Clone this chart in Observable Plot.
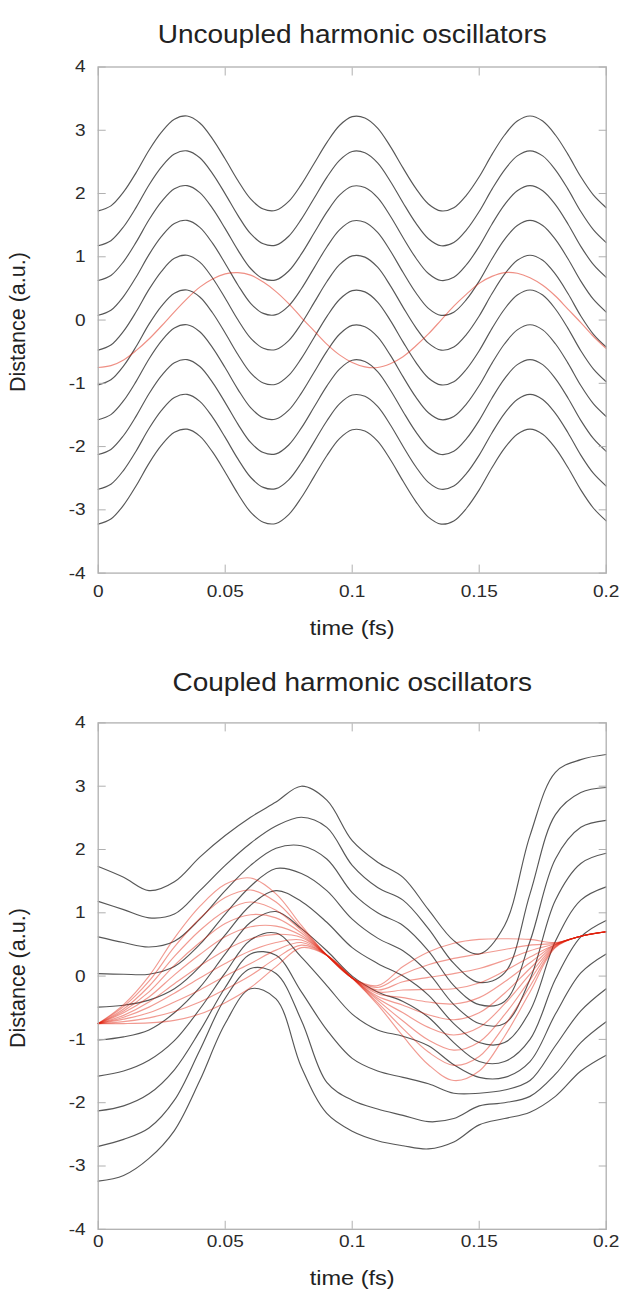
<!DOCTYPE html>
<html><head><meta charset="utf-8">
<script src="https://cdn.jsdelivr.net/npm/d3@7"></script>
<script src="https://cdn.jsdelivr.net/npm/@observablehq/plot@0.6"></script>
<style>
html,body{margin:0;padding:0;background:#fff;}
#c svg{display:block;}
</style></head><body><div id="c"></div>
<script>
// ---------------- data ----------------
const xTicks = [0, 0.05, 0.1, 0.15, 0.2];
const xTickLabels = ["0", "0.05", "0.1", "0.15", "0.2"];
const yTicks = [-4, -3, -2, -1, 0, 1, 2, 3, 4];

// Uncoupled panel: time grid, shared waveform of the black oscillators, their rest positions
const tFine = [0,0.005,0.01,0.015,0.02,0.025,0.03,0.035,0.04,0.045,0.05,0.055,0.06,0.065,0.07,0.075,0.08,0.085,0.09,0.095,0.1,0.105,0.11,0.115,0.12,0.125,0.13,0.135,0.14,0.145,0.15,0.155,0.16,0.165,0.17,0.175,0.18,0.185,0.19,0.195,0.2];
const uncoupledCenters = [2.475, 1.925, 1.375, 0.825, 0.275, -0.275, -0.825, -1.375, -1.925, -2.475];
const uncoupledWave = [-0.75,-0.67,-0.45,-0.14,0.21,0.50,0.70,0.75,0.64,0.39,0.07,-0.27,-0.56,-0.72,-0.74,-0.60,-0.33,0.00,0.33,0.60,0.74,0.72,0.56,0.27,-0.07,-0.39,-0.64,-0.75,-0.70,-0.50,-0.21,0.14,0.45,0.67,0.75,0.67,0.45,0.14,-0.21,-0.50,-0.70];
const uncoupledRed = [-0.75,-0.72,-0.63,-0.48,-0.30,-0.09,0.13,0.34,0.52,0.65,0.73,0.75,0.71,0.60,0.45,0.26,0.04,-0.17,-0.38,-0.55,-0.67,-0.74,-0.75,-0.69,-0.58,-0.41,-0.22,0.00,0.22,0.41,0.58,0.69,0.75,0.74,0.67,0.55,0.38,0.17,-0.04,-0.26,-0.45];

// Coupled panel: time grid
const tCoarse = [0,0.01,0.02,0.03,0.04,0.05,0.06,0.07,0.08,0.09,0.1,0.11,0.12,0.13,0.14,0.15,0.16,0.17,0.18,0.19,0.2];
// black oscillators, top (1) to bottom (10)
const cBlack1  = [1.73,1.56,1.35,1.49,1.88,2.22,2.51,2.75,3.00,2.78,2.14,1.80,1.56,1.05,0.56,0.35,0.80,2.22,3.22,3.42,3.50];
const cBlack2  = [1.18,1.05,0.92,0.98,1.35,1.75,2.10,2.37,2.51,2.35,1.75,1.40,1.20,0.75,0.20,-0.10,0.05,1.30,2.55,2.90,2.98];
const cBlack3  = [0.62,0.53,0.46,0.55,0.90,1.35,1.75,2.02,2.06,1.85,1.32,1.00,0.80,0.40,-0.15,-0.45,-0.40,0.55,1.85,2.35,2.46];
const cBlack4  = [0.04,0.03,0.03,0.15,0.50,0.98,1.42,1.70,1.62,1.35,0.90,0.60,0.40,0.05,-0.45,-0.75,-0.75,-0.05,1.20,1.78,1.94];
const cBlack5  = [-0.49,-0.46,-0.38,-0.20,0.15,0.65,1.12,1.35,1.18,0.85,0.45,0.20,0.00,-0.30,-0.75,-1.05,-1.05,-0.55,0.55,1.20,1.41];
const cBlack6  = [-1.01,-0.96,-0.85,-0.58,-0.18,0.35,0.85,1.02,0.75,0.40,0.00,-0.25,-0.40,-0.65,-1.05,-1.35,-1.35,-1.00,-0.05,0.62,0.88];
const cBlack7  = [-1.58,-1.50,-1.33,-1.02,-0.52,0.05,0.57,0.68,0.30,-0.15,-0.60,-0.85,-0.95,-1.10,-1.40,-1.60,-1.60,-1.35,-0.60,0.05,0.35];
const cBlack8  = [-2.13,-2.05,-1.86,-1.48,-0.87,-0.18,0.35,0.33,-0.25,-0.85,-1.30,-1.50,-1.60,-1.70,-1.85,-1.85,-1.80,-1.65,-1.10,-0.55,-0.20];
const cBlack9  = [-2.69,-2.58,-2.40,-1.96,-1.17,-0.35,0.12,0.04,-0.70,-1.68,-1.96,-2.10,-2.20,-2.30,-2.25,-2.05,-2.00,-1.90,-1.55,-1.05,-0.72];
const cBlack10 = [-3.24,-3.15,-2.88,-2.44,-1.65,-0.75,-0.20,-0.36,-1.44,-2.17,-2.45,-2.60,-2.68,-2.73,-2.62,-2.35,-2.25,-2.15,-1.90,-1.50,-1.25];
// red trajectories, top (1) to bottom (10) of the fans
const cRed1  = [-0.75,-0.45,0.00,0.60,1.10,1.45,1.55,1.30,0.80,0.33,-0.03,-0.15,0.15,0.38,0.52,0.58,0.59,0.58,0.53,0.63,0.70];
const cRed2  = [-0.75,-0.48,-0.08,0.46,0.91,1.24,1.36,1.17,0.76,0.33,-0.03,-0.18,0.03,0.18,0.28,0.35,0.42,0.49,0.52,0.63,0.70];
const cRed3  = [-0.75,-0.52,-0.16,0.31,0.72,1.03,1.17,1.04,0.72,0.33,-0.03,-0.22,-0.09,-0.02,0.04,0.12,0.25,0.40,0.51,0.63,0.70];
const cRed4  = [-0.75,-0.55,-0.25,0.17,0.53,0.83,0.97,0.92,0.68,0.33,-0.03,-0.25,-0.22,-0.21,-0.20,-0.11,0.08,0.30,0.50,0.63,0.70];
const cRed5  = [-0.75,-0.58,-0.33,0.02,0.34,0.62,0.78,0.79,0.64,0.33,-0.03,-0.28,-0.34,-0.41,-0.44,-0.34,-0.09,0.21,0.50,0.63,0.70];
const cRed6  = [-0.75,-0.62,-0.41,-0.12,0.16,0.41,0.59,0.66,0.61,0.33,-0.03,-0.32,-0.46,-0.61,-0.69,-0.58,-0.27,0.12,0.49,0.63,0.70];
const cRed7  = [-0.75,-0.65,-0.49,-0.27,-0.03,0.20,0.40,0.53,0.57,0.33,-0.03,-0.35,-0.58,-0.81,-0.93,-0.81,-0.44,0.03,0.48,0.63,0.70];
const cRed8  = [-0.75,-0.68,-0.58,-0.41,-0.22,0.00,0.20,0.41,0.53,0.33,-0.03,-0.38,-0.71,-1.01,-1.17,-1.04,-0.61,-0.06,0.47,0.63,0.70];
const cRed9  = [-0.75,-0.72,-0.66,-0.56,-0.41,-0.21,0.01,0.28,0.49,0.33,-0.03,-0.42,-0.83,-1.20,-1.41,-1.27,-0.78,-0.16,0.46,0.63,0.70];
const cRed10 = [-0.75,-0.75,-0.74,-0.70,-0.60,-0.42,-0.18,0.15,0.45,0.33,-0.03,-0.45,-0.95,-1.40,-1.65,-1.50,-0.95,-0.25,0.45,0.63,0.70];

// ---------------- drawing ----------------
const toRows = (ts, vals, id) => ts.map((t, i) => ({t, v: vals[i], id}));
const FONT = "'Liberation Sans', Arial, Helvetica, sans-serif";
const SX = 1.12;           // glyphs in the original are a little wider than Arial
const FRAME = "#b0b0b0";
const YLABEL = "Distance (a.u.)";

function panel({title, black, red, h, mt, mb, redOpacity, titleDy, timeDy, xPad}) {
  return Plot.plot({
    width: 620, height: h,
    marginLeft: 97.7, marginRight: 14.3, marginTop: mt, marginBottom: mb,
    style: {fontFamily: FONT, fontSize: "17px", color: "#333", background: "#fff", overflow: "visible"},
    x: {domain: [0, 0.2]},
    y: {domain: [-4, 4]},
    marks: [
      Plot.lineY(black, {x: "t", y: "v", z: "id", stroke: "#575757", strokeWidth: 1.15, curve: "catmull-rom"}),
      Plot.lineY(red, {x: "t", y: "v", z: "id", stroke: "#e0200a", strokeOpacity: redOpacity, strokeWidth: 1.15, curve: "catmull-rom"}),
      Plot.frame({stroke: FRAME, strokeWidth: 1.3}),
      Plot.axisX(xTicks, {anchor: "bottom", tickSize: -8, tickPadding: xPad, stroke: FRAME, fill: "#2b2b2b", tickFormat: d => xTickLabels[xTicks.indexOf(d)], label: null}),
      Plot.axisX(xTicks, {anchor: "top", tickSize: -8, stroke: FRAME, tickFormat: () => "", label: null}),
      Plot.axisY(yTicks, {anchor: "left", tickSize: -8, tickPadding: 20.5, stroke: FRAME, fill: "#2b2b2b", tickFormat: d => String(d), label: null}),
      Plot.axisY(yTicks, {anchor: "right", tickSize: -8, stroke: FRAME, tickFormat: () => "", label: null}),
      Plot.text([title], {frameAnchor: "top", dy: titleDy, fontSize: 25, fill: "#222"}),
      Plot.text(["time (fs)"], {frameAnchor: "bottom", dy: timeDy, fontSize: 21, fill: "#222"}),
      Plot.text([YLABEL], {frameAnchor: "left", textAnchor: "middle", dx: -80, dy: 2, rotate: -90, fontSize: 21.5, fill: "#222"})
    ]
  });
}

function widen(svg) {
  d3.select(svg).selectAll("text").each(function() {
    const s = this.textContent;
    if (!s || s === YLABEL) return;
    const L = this.getComputedTextLength();
    if (L > 0) { this.setAttribute("textLength", (L * SX).toFixed(2)); this.setAttribute("lengthAdjust", "spacingAndGlyphs"); }
  });
}

const topBlack = uncoupledCenters.flatMap((c, k) => toRows(tFine, uncoupledWave.map(w => c + w), "b" + k));
const topRed = toRows(tFine, uncoupledRed, "r");
const botBlack = [cBlack1, cBlack2, cBlack3, cBlack4, cBlack5, cBlack6, cBlack7, cBlack8, cBlack9, cBlack10]
  .flatMap((s, k) => toRows(tCoarse, s, "b" + k));
const botRed = [cRed1, cRed2, cRed3, cRed4, cRed5, cRed6, cRed7, cRed8, cRed9, cRed10]
  .flatMap((s, k) => toRows(tCoarse, s, "r" + k));

const c = document.getElementById("c");
const s1 = panel({title: "Uncoupled harmonic oscillators", black: topBlack, red: topRed, h: 650, mt: 66.5, mb: 77.4,
  redOpacity: 0.5, titleDy: -42, timeDy: 62, xPad: 20});
const s2 = panel({title: "Coupled harmonic oscillators", black: botBlack, red: botRed, h: 647, mt: 72.4, mb: 68.2,
  redOpacity: 0.45, titleDy: -50, timeDy: 56, xPad: 14});
c.append(s1); c.append(s2);
widen(s1); widen(s2);
</script>
</body></html>
